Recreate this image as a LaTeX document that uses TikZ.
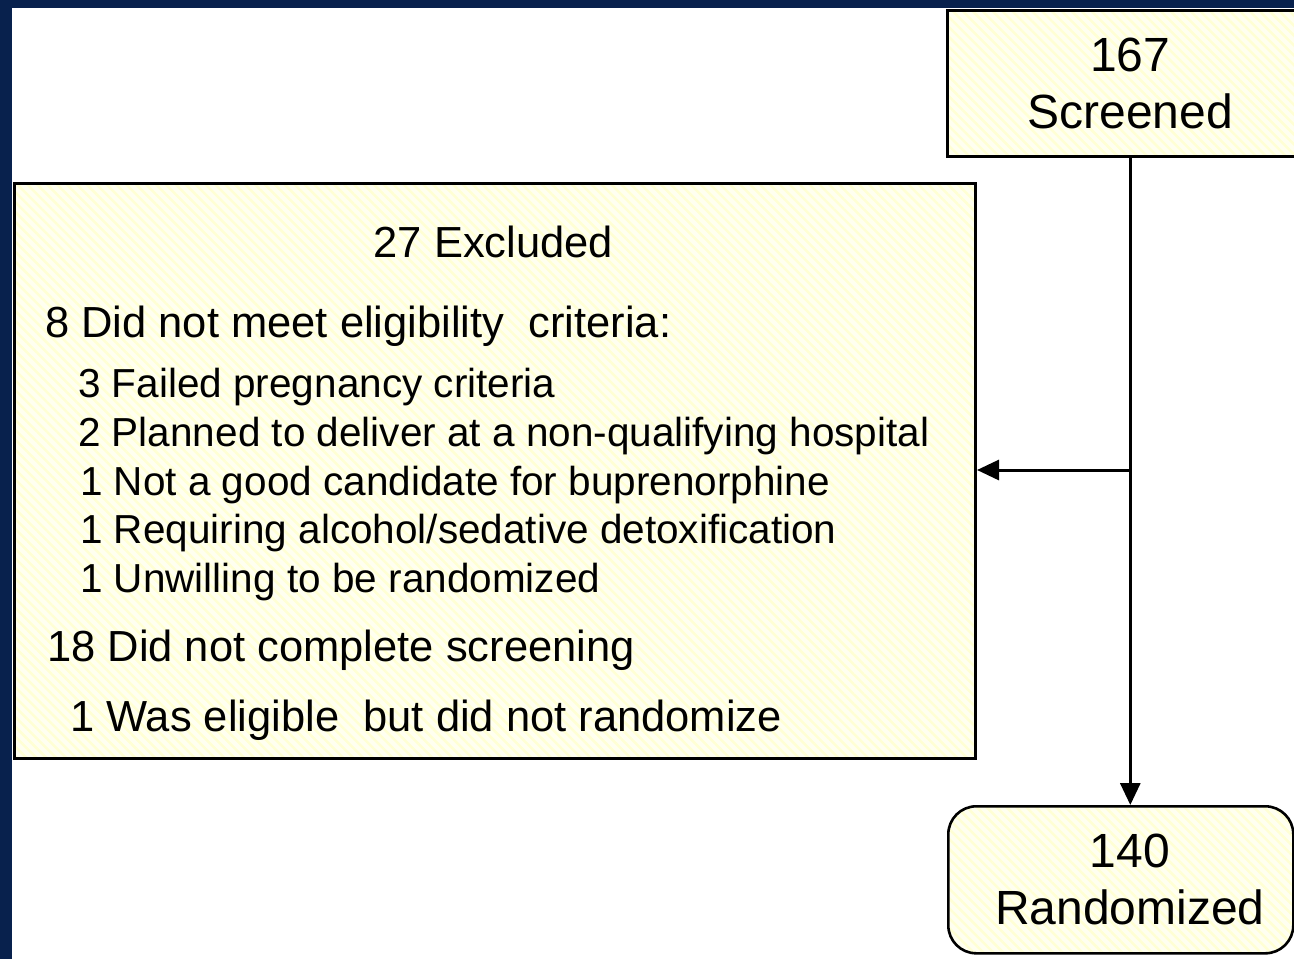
\documentclass[tikz,border=0pt]{standalone}
\usepackage{fontspec}
\setmainfont{Liberation Sans}
\usetikzlibrary{arrows.meta,patterns.meta}
\definecolor{navy}{RGB}{8,33,77}
\definecolor{paleyel}{RGB}{255,255,240}
\definecolor{stripeyel}{RGB}{255,255,212}
\newcommand{\fbig}{\fontsize{48}{57}\selectfont}
\newcommand{\fmid}{\fontsize{43.5}{52}\selectfont}
\newcommand{\fsml}{\fontsize{40.5}{49}\selectfont}
\begin{document}
\begin{tikzpicture}[x=1pt,y=-1pt,
  yelfill/.style={preaction={fill=paleyel},
    pattern={Lines[angle=-45,distance=7pt,line width=2.5pt]},
    pattern color=stripeyel},
  flowbox/.style={yelfill, draw=black, line width=2.6pt, inner sep=0pt,
    align=center, font=\fbig},
  txt/.style={inner sep=0pt, anchor=base west},
  conn/.style={line width=3pt, -{Triangle[length=22pt,width=20pt]}}
]
\useasboundingbox (0,0) rectangle (1294,959);
\clip (0,0) rectangle (1294,959);
\fill[white] (0,0) rectangle (1294,959);
\fill[navy] (0,0) rectangle (12,959);
\fill[navy] (0,0) rectangle (1294,8);

% boxes
\node[flowbox, anchor=north west, minimum width=366pt, minimum height=146pt] (scr) at (946,9) {167\\Screened};
\node[flowbox, anchor=north west, minimum width=961pt, minimum height=575pt, line width=3pt] (excl) at (13,182) {};
\node[flowbox, rounded corners=28pt, anchor=north west, minimum width=345pt, minimum height=147pt] (rand) at (947,805) {\hspace*{18pt}140\\\hspace*{18pt}Randomized};

% texts of the exclusion box
\node[txt, anchor=base, font=\fmid] (t0) at (493.5,257) {27 Excluded};
\node[txt, font=\fmid] (t1) at (45,337) {8 Did not meet eligibility\ \ criteria:};
\node[txt, font=\fsml] (t2) at (78,397) {3 Failed pregnancy criteria};
\node[txt, font=\fsml] (t3) at (78,446) {2 Planned to deliver at a non-qualifying hospital};
\node[txt, font=\fsml] (t4) at (80,495) {1 Not a good candidate for buprenorphine};
\node[txt, font=\fsml] (t5) at (80,543) {1 Requiring alcohol/sedative detoxification};
\node[txt, font=\fsml] (t6) at (80,592) {1 Unwilling to be randomized};
\node[txt, font=\fmid] (t7) at (47,661) {18 Did not complete screening};
\node[txt, font=\fmid] (t8) at (70,731) {1 Was eligible\ \ but did not randomize};

% connectors
\coordinate (j) at (1129,470);
\draw[conn] (scr.south) -- (scr.south |- rand.north);
\draw[conn] (j) -- (j -| excl.east);
\end{tikzpicture}
\end{document}
